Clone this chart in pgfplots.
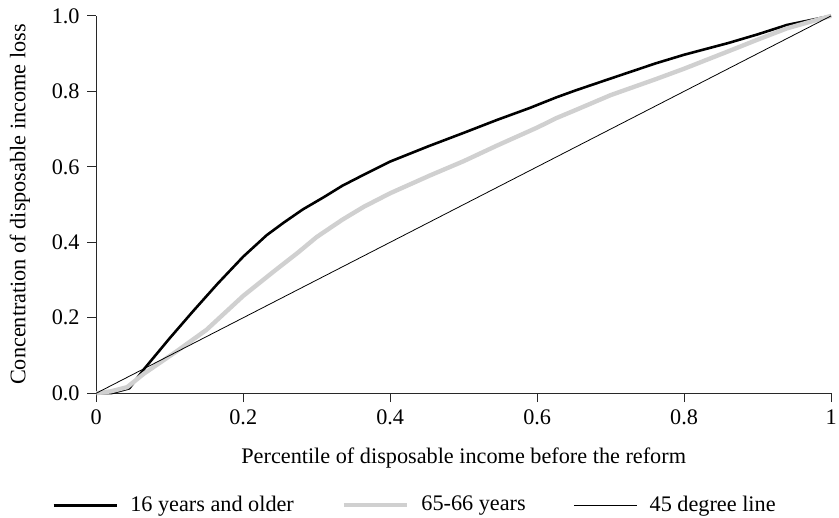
\documentclass[border=0pt]{standalone}
\usepackage{pgfplots}
\pgfplotsset{compat=1.18}
\usepackage{fontspec}
\setmainfont{Liberation Serif}

\definecolor{lightgrey}{RGB}{208,208,208}
\definecolor{axisgrey}{RGB}{40,40,40}

% Concentration curves of disposable income loss
\pgfplotstableread{
x      y
0      0
0.02   0.0
0.045  0.013
0.065  0.064
0.10   0.146
0.132  0.218
0.165  0.29
0.20   0.362
0.232  0.419
0.255  0.452
0.281  0.487
0.31   0.520
0.335  0.550
0.36   0.575
0.40   0.614
0.454  0.656
0.50   0.690
0.545  0.724
0.59   0.756
0.626  0.784
0.653  0.803
0.70   0.834
0.761  0.874
0.80   0.897
0.86   0.928
0.90   0.951
0.94   0.976
1.0    1.0
}\olderall

\pgfplotstableread{
x      y
0      0
0.02   0.005
0.042  0.016
0.065  0.052
0.11   0.112
0.15   0.168
0.20   0.258
0.245  0.328
0.274  0.372
0.30   0.414
0.335  0.460
0.364  0.494
0.40   0.530
0.454  0.577
0.50   0.615
0.545  0.656
0.60   0.704
0.626  0.729
0.653  0.751
0.70   0.790
0.761  0.832
0.80   0.860
0.86   0.906
0.90   0.937
0.94   0.967
1.0    1.0
}\agedsixtyfive

\pgfplotstableread{
x y
0 0
1 1
}\diagonal

\begin{document}
\fontsize{11.2}{13}\selectfont
\begin{tikzpicture}
\begin{axis}[
  scale only axis,
  width=370pt, height=190pt,
  xmin=0, xmax=1, ymin=0, ymax=1,
  axis x line*=bottom, axis y line*=left,
  axis line style={color=axisgrey, line width=0.5pt},
  tick style={color=axisgrey, line width=0.5pt},
  tick align=outside,
  major tick length=4.5pt,
  xtick={0,0.2,0.4,0.6,0.8,1},
  xticklabels={0,0.2,0.4,0.6,0.8,1},
  ytick={0,0.2,0.4,0.6,0.8,1},
  yticklabels={0.0,0.2,0.4,0.6,0.8,1.0},
  xlabel={Percentile of disposable income before the reform},
  ylabel={Concentration of disposable income loss},
  xlabel style={at={(axis description cs:0.5,-0.171)}, anchor=center},
  ylabel style={at={(axis description cs:-0.104,0.5)}, anchor=center},
  legend columns=3,
  legend style={
    at={(axis description cs:0.435,-0.297)}, anchor=center,
    draw=none, fill=none,
    /tikz/every odd column/.append style={column sep=4pt},
    /tikz/every even column/.append style={column sep=22pt},
  },
  legend image code/.code={\draw[#1] (0pt,0pt) -- (32pt,0pt);},
  clip=false,
]
\addplot[black, line width=1.3pt, line join=round] table {\olderall};
\addlegendentry{16 years and older}
\addplot[lightgrey, line width=2.2pt, line join=round] table {\agedsixtyfive};
\addlegendentry{65-66 years}
\addplot[black, line width=0.4pt] table {\diagonal};
\addlegendentry{45 degree line}
\end{axis}
\pgfresetboundingbox
\useasboundingbox (-48.5pt,-62.5pt) rectangle (374pt,198pt);
\end{tikzpicture}
\end{document}
